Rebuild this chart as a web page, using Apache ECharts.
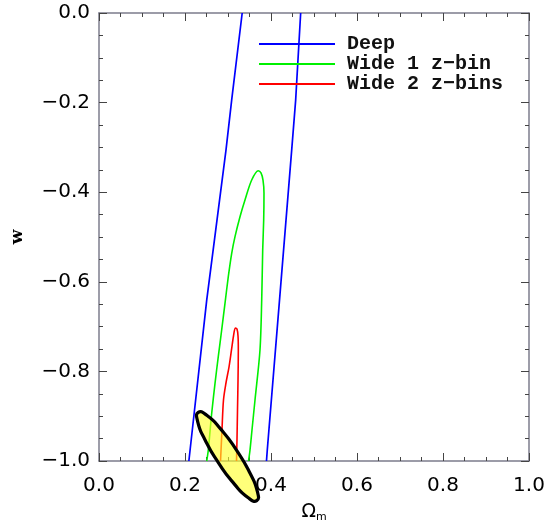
<!DOCTYPE html>
<html>
<head>
<meta charset="utf-8">
<script src="https://cdn.jsdelivr.net/npm/echarts@6/dist/echarts.min.js"></script>
<style>
html,body{margin:0;padding:0;background:#fff;}
#chart{width:547px;height:520px;}
</style>
</head>
<body>
<div id="chart"></div>
<script>
// Tick labels
const omegaTicks = ['0.0', '0.2', '0.4', '0.6', '0.8', '1.0'];
const wTicks = ['\u22121.0', '\u22120.8', '\u22120.6', '\u22120.4', '\u22120.2', '0.0'];

// Legend names
const seriesNames = ['Deep', 'Wide 1 z\u2212bin', 'Wide 2 z\u2212bins'];

// Deep contour (two visible edges)
const deepLeftOm  = [0.209, 0.2505, 0.2953, 0.3086, 0.333];
const deepLeftW   = [-1.0, -0.641, -0.306, -0.194, 0.0];
const deepRightOm = [0.3895, 0.3914, 0.4198, 0.4481, 0.4574, 0.469];
const deepRightW  = [-1.0, -0.975, -0.641, -0.306, -0.194, 0.0];

// Wide 1 z-bin contour
const wide1Om = [0.2505, 0.2542, 0.2621, 0.2698, 0.2774, 0.2853, 0.2930, 0.3007, 0.3086, 0.3163, 0.3279, 0.3395, 0.3551, 0.3705,
                 0.3767, 0.3814, 0.3837, 0.3830, 0.3807, 0.3784, 0.3744, 0.3628, 0.3558, 0.3512, 0.3477];
const wide1W  = [-1.0, -0.9754, -0.8935, -0.8266, -0.7672, -0.7076, -0.6480, -0.5886, -0.5364, -0.4993, -0.4547, -0.4174, -0.3728, -0.3520,
                 -0.3571, -0.3728, -0.4018, -0.4621, -0.5290, -0.6406, -0.7522, -0.8638, -0.9308, -0.9754, -1.0];

// Wide 2 z-bins contour
const wide2Om = [0.2826, 0.2860, 0.2895, 0.2953, 0.3023, 0.3081, 0.3128, 0.3170, 0.3209, 0.3233, 0.3240, 0.3233, 0.3221, 0.3209, 0.3198];
const wide2W  = [-1.0, -0.9308, -0.8638, -0.8259, -0.7902, -0.7522, -0.7210, -0.7031, -0.7054, -0.7210, -0.7522, -0.8192, -0.8862, -0.9531, -1.0];

// Yellow ellipse outline
const ellOm = [0.3669, 0.3684, 0.3513, 0.3201, 0.2833, 0.2506, 0.2308, 0.2293, 0.2464, 0.2775, 0.3144, 0.3471];
const ellW  = [-1.0885, -1.0685, -1.0275, -0.9764, -0.9289, -0.8979, -0.8914, -0.9114, -0.9524, -1.0035, -1.0510, -1.0821];

const zip = (a, b) => a.map((v, i) => [v, b[i]]);

const axisLineStyle = { color: '#7c7c8c', width: 1.5 };
const tickStyle = { color: '#444', width: 1 };

function mkX(pos, showLabel) {
  return {
    type: 'value', position: pos, min: 0, max: 1, interval: 0.2,
    axisLine: { show: true, onZero: false, lineStyle: axisLineStyle },
    axisTick: { show: true, inside: true, length: 8, lineStyle: tickStyle },
    minorTick: { show: true, splitNumber: 4, length: 4, lineStyle: tickStyle },
    splitLine: { show: false },
    axisLabel: {
      show: showLabel, margin: 15, color: '#000', fontFamily: 'DejaVu Sans', fontSize: 20,
      formatter: (v, i) => omegaTicks[i]
    }
  };
}
function mkY(pos, showLabel) {
  return {
    type: 'value', position: pos, min: -1, max: 0, interval: 0.2,
    axisLine: { show: true, onZero: false, lineStyle: axisLineStyle },
    axisTick: { show: true, inside: true, length: 8, lineStyle: tickStyle },
    minorTick: { show: true, splitNumber: 4, length: 4, lineStyle: tickStyle },
    splitLine: { show: false },
    axisLabel: {
      show: showLabel, margin: 9, color: '#000', fontFamily: 'DejaVu Sans', fontSize: 20,
      formatter: (v, i) => wTicks[i]
    }
  };
}

const xMain = mkX('bottom', true);
xMain.name = '{a|\u03A9}{b|m}';
xMain.nameLocation = 'middle';
xMain.nameGap = 41;
xMain.nameTextStyle = {
  rich: {
    a: { fontFamily: 'DejaVu Sans', fontSize: 19, color: '#000', lineHeight: 20 },
    b: { fontFamily: 'DejaVu Sans', fontSize: 11, color: '#000', verticalAlign: 'bottom', padding: [10, 0, 0, 0] }
  }
};
const yMain = mkY('left', true);
yMain.name = 'w';
yMain.nameLocation = 'middle';
yMain.nameRotate = 90;
yMain.nameGap = 73;
yMain.nameTextStyle = { fontFamily: 'DejaVu Serif', fontSize: 17, color: '#000', fontWeight: 'bold' };

const lineCommon = { type: 'line', showSymbol: false, symbol: 'none', clip: true, z: 3 };

const chart = echarts.init(document.getElementById('chart'), null, { renderer: 'canvas' });
chart.setOption({
  animation: false,
  backgroundColor: '#fff',
  grid: { left: 99, right: 18, top: 13, bottom: 59, containLabel: false, outerBoundsMode: 'none' },
  xAxis: [xMain, mkX('top', false)],
  yAxis: [yMain, mkY('right', false)],
  legend: {
    data: seriesNames,
    orient: 'vertical', left: 259, top: 34, padding: 0,
    itemWidth: 76, itemHeight: 2, itemGap: 0, icon: 'rect',
    textStyle: { fontFamily: 'Liberation Mono', fontSize: 20, fontWeight: 'bold', lineHeight: 20, color: '#111', padding: [0, 0, 0, 7] }
  },
  series: [
    Object.assign({}, lineCommon, { name: seriesNames[0], data: zip(deepLeftOm, deepLeftW),
      itemStyle: { color: '#0000ff' }, lineStyle: { color: '#0000ff', width: 1.7 } }),
    Object.assign({}, lineCommon, { name: seriesNames[0], data: zip(deepRightOm, deepRightW),
      itemStyle: { color: '#0000ff' }, lineStyle: { color: '#0000ff', width: 1.7 } }),
    Object.assign({}, lineCommon, { name: seriesNames[1], data: zip(wide1Om, wide1W), smooth: 0.3,
      itemStyle: { color: '#00f000' }, lineStyle: { color: '#00f000', width: 1.6 } }),
    Object.assign({}, lineCommon, { name: seriesNames[2], data: zip(wide2Om, wide2W), smooth: 0.3,
      itemStyle: { color: '#ff0000' }, lineStyle: { color: '#ff0000', width: 1.6 } }),
    {
      type: 'custom', name: 'ellipse', z: 10, clip: false,
      data: [[ellOm[0], ellW[0]]],
      renderItem: function (params, api) {
        const pts = ellOm.map((x, i) => api.coord([x, ellW[i]]));
        return {
          type: 'polygon',
          shape: { points: pts, smooth: 0.6 },
          style: { fill: 'rgba(255,255,40,0.62)', stroke: '#000', lineWidth: 3.2 }
        };
      }
    }
  ]
});
</script>
</body>
</html>
